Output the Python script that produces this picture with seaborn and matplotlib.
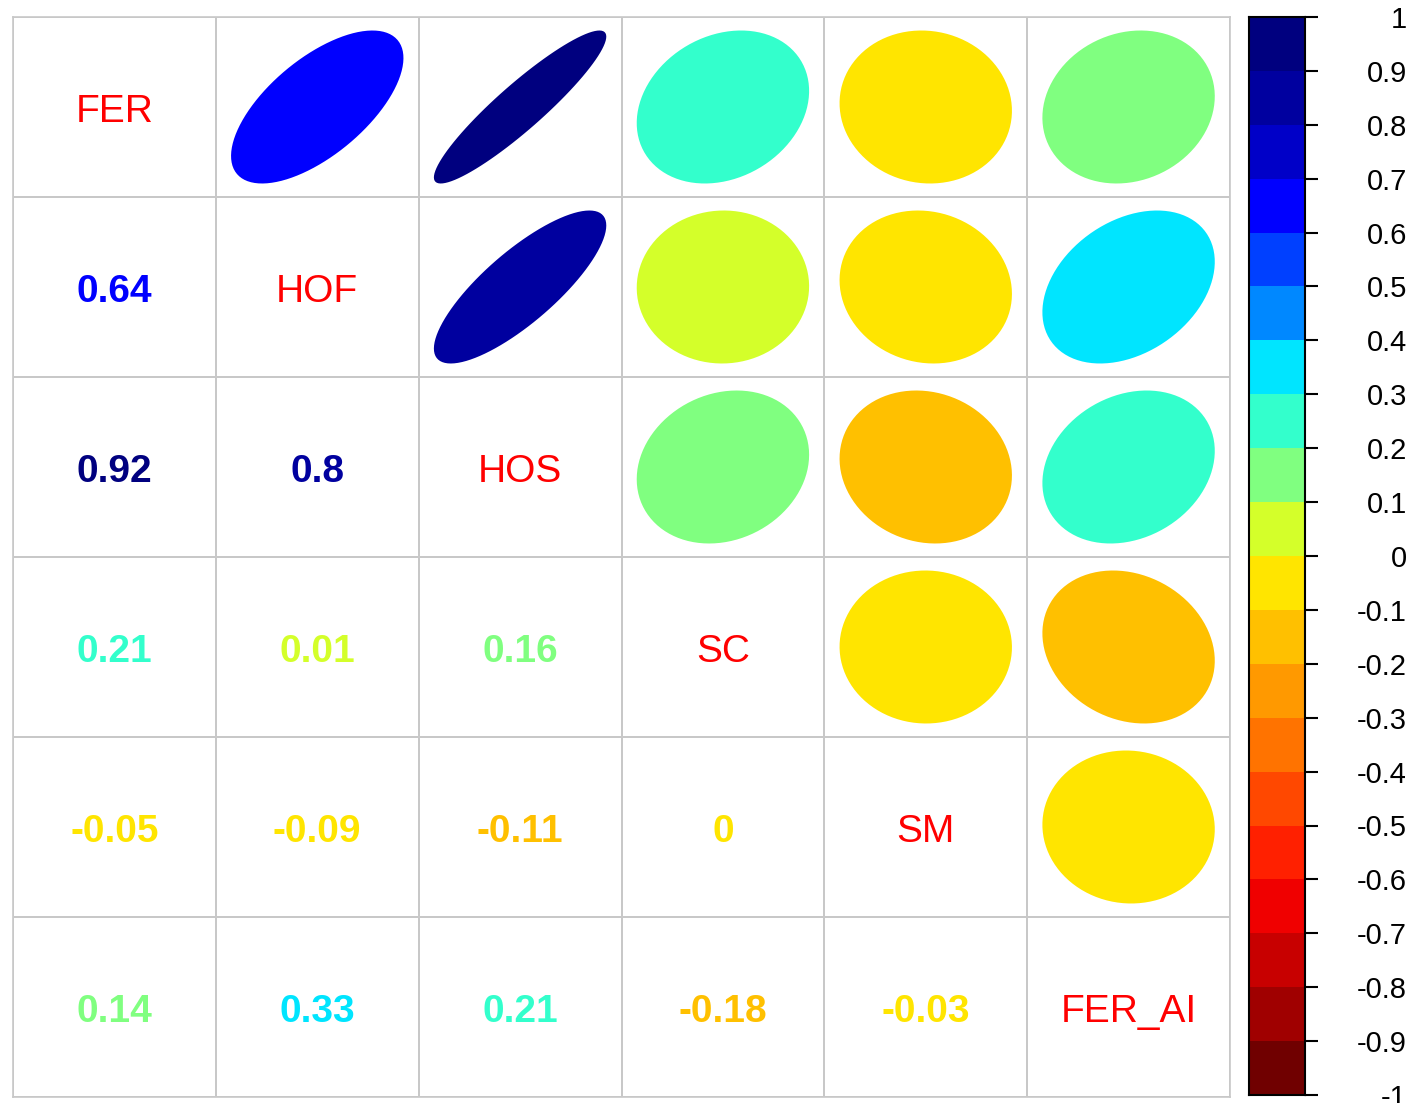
import matplotlib
matplotlib.use('Agg')
import numpy as np
import pandas as pd
import matplotlib.pyplot as plt
from matplotlib.colors import ListedColormap
from matplotlib.patches import Polygon
import seaborn as sns

# Variáveis e correlações (triângulo inferior, valores estimados antes do arredondamento)
variaveis = ['FER', 'HOF', 'HOS', 'SC', 'SM', 'FER_AI']
corr_inf = [
    [1.00],
    [0.64, 1.00],
    [0.92, 0.804, 1.00],
    [0.21, 0.01, 0.16, 1.00],
    [-0.05, -0.09, -0.11, -0.004, 1.00],
    [0.14, 0.33, 0.21, -0.18, -0.03, 1.00],
]
rotulos_cbar = ['-1', '-0.9', '-0.8', '-0.7', '-0.6', '-0.5', '-0.4', '-0.3', '-0.2', '-0.1', '0',
                '0.1', '0.2', '0.3', '0.4', '0.5', '0.6', '0.7', '0.8', '0.9', '1']

# Paleta em 20 faixas (de -1 a 1)
cores = ['#700000', '#A00000', '#C80000', '#F00000', '#FF2000', '#FF4800', '#FF7300',
         '#FF9900', '#FFC000', '#FFE500', '#D4FF2A', '#80FF80', '#33FFCC', '#00E5FF',
         '#0088FF', '#0040FF', '#0000FF', '#0000C8', '#00009F', '#00007F']
cmap20 = ListedColormap(cores)

n = len(variaveis)
M = np.eye(n)
for i, linha in enumerate(corr_inf):
    for j, v in enumerate(linha):
        M[i, j] = v
        M[j, i] = v
df = pd.DataFrame(M, index=variaveis, columns=variaveis)


def cor_de(v):
    idx = int(np.floor(round((v + 1) * 10, 6)))
    return cores[min(max(idx, 0), 19)]


def rotulo(v):
    r = round(v, 2)
    if r == 0:
        return '0'
    return '%g' % r


plt.rcParams['font.family'] = ['Liberation Sans', 'DejaVu Sans']
fig = plt.figure(figsize=(14.12, 11.03), dpi=100)
W, H = 1412, 1103
ax = fig.add_axes([13 / W, 6 / H, 1217 / W, 1080 / H])

# Grade
sns.heatmap(np.zeros((n, n)), ax=ax, cmap=ListedColormap(['white']), cbar=False,
            linewidths=1.2, linecolor='#c8c8c8', xticklabels=False, yticklabels=False)
for s in ax.spines.values():
    s.set_visible(True)
    s.set_color('#c8c8c8')
    s.set_linewidth(1.2)

k = np.linspace(0, 2 * np.pi, 99)
for i in range(n):
    for j in range(n):
        v = df.iloc[i, j]
        cx, cy = j + 0.5, i + 0.5
        if i == j:
            ax.text(cx, cy + 0.03, variaveis[i], color='red', fontsize=28,
                    ha='center', va='center')
        elif i > j:
            ax.text(cx, cy + 0.03, rotulo(v), color=cor_de(v), fontsize=28,
                    fontweight='bold', ha='center', va='center')
        else:
            d = np.arccos(v)
            ex = 0.85 * np.cos(k + d / 2) / 2
            ey = 0.85 * np.cos(k - d / 2) / 2
            ax.add_patch(Polygon(np.column_stack([cx + ex, cy - ey]), closed=True,
                                 facecolor=cor_de(v), edgecolor='none'))

# Barra de cores
cax = fig.add_axes([1249 / W, 8 / H, 56 / W, 1078 / H])
niveis = np.arange(20).reshape(-1, 1)
sns.heatmap(niveis, ax=cax, cmap=cmap20, cbar=False, vmin=-0.5, vmax=19.5,
            xticklabels=False, yticklabels=False)
cax.set_ylim(0, 20)
for s in cax.spines.values():
    s.set_visible(True)
    s.set_color('black')
    s.set_linewidth(1.5)
cax.yaxis.tick_right()
cax.set_yticks(np.arange(21))
cax.set_yticklabels(rotulos_cbar, fontsize=21)
cax.tick_params(axis='y', length=9.4, width=1.5, pad=64, direction='out')
for t in cax.get_yticklabels():
    t.set_horizontalalignment('right')

fig.savefig('out.png', dpi=100)
plt.close(fig)
